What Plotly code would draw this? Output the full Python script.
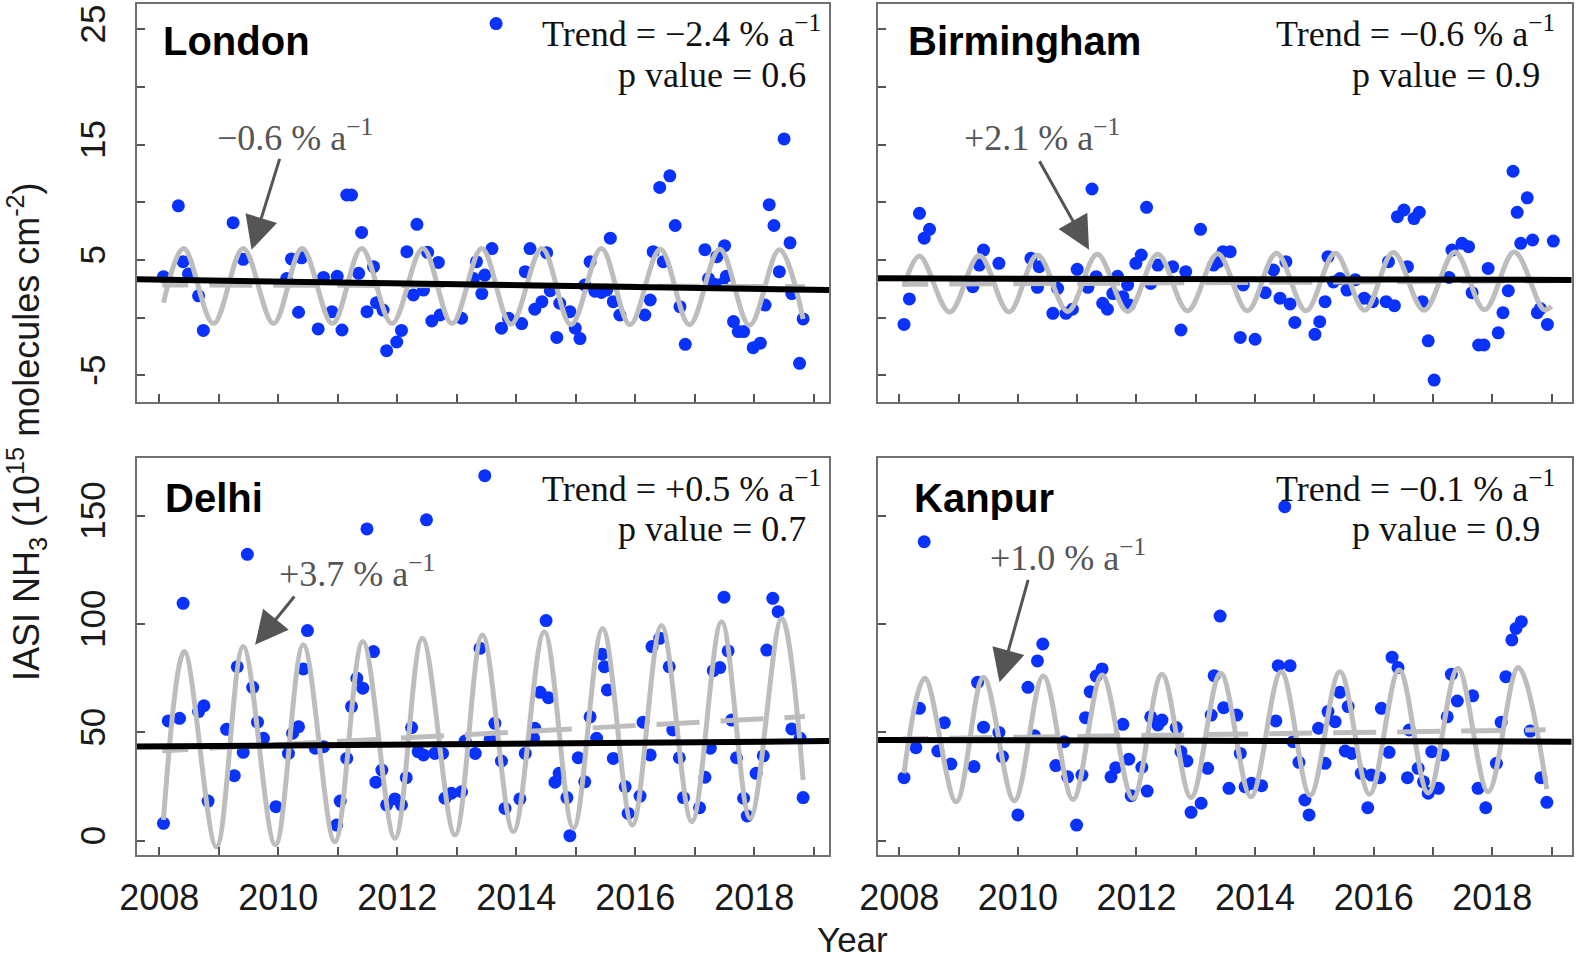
import plotly.graph_objects as go

W, H = 1576, 960

# ---------------- data ----------------
years = list(range(2008, 2020))
year_labels = [str(y) if y % 2 == 0 else "" for y in years]
top_ticks = [-5, 0, 5, 10, 15, 20, 25]
top_labels = ["-5", "", "5", "", "15", "", "25"]
bottom_ticks = [0, 50, 100, 150]
bottom_labels = ["0", "50", "100", "150"]

cities = ["London", "Birmingham", "Delhi", "Kanpur"]
trend_pct = ["−2.4", "−0.6", "+0.5", "−0.1"]
p_values = ["0.6", "0.9", "0.7", "0.9"]
seasonal_pct = ["−0.6", "+2.1", "+3.7", "+1.0"]

london_t = [2008.07, 2008.32, 2008.40, 2008.49, 2008.66, 2008.74, 2009.24, 2009.41, 2010.14, 2010.22,
            2010.34, 2010.39, 2010.67, 2010.76, 2010.90, 2010.99, 2011.07, 2011.15, 2011.23, 2011.35,
            2011.40, 2011.49, 2011.60, 2011.65, 2011.76, 2011.82, 2011.99, 2012.07, 2012.16, 2012.27,
            2012.33, 2012.44, 2012.51, 2012.58, 2012.69, 2012.72, 2013.08, 2013.28, 2013.33, 2013.42,
            2013.47, 2013.59, 2013.66, 2013.75, 2013.87, 2014.09, 2014.15, 2014.23, 2014.31, 2014.43,
            2014.51, 2014.57, 2014.68, 2014.73, 2014.90, 2014.99, 2015.07, 2015.15, 2015.24, 2015.32,
            2015.43, 2015.52, 2015.58, 2015.63, 2015.74, 2016.16, 2016.25, 2016.30, 2016.41, 2016.47,
            2016.58, 2016.67, 2016.75, 2016.84, 2017.17, 2017.23, 2017.33, 2017.37, 2017.45, 2017.50,
            2017.53, 2017.65, 2017.73, 2017.82, 2017.98, 2018.10, 2018.18, 2018.25, 2018.33, 2018.42,
            2018.50, 2018.60, 2018.63, 2018.76, 2018.82]
london_v = [3.56, 9.7, 4.86, 3.8, 1.9, -1.1, 8.24, 5.07, 3.4, 5.1,
            0.48, 5.2, -0.97, 3.5, 0.53, 3.6, -1.06, 10.64, 10.64, 3.85,
            7.4, 0.53, 4.43, 1.31, 0.67, -2.85, -2.1, -1.1, 5.73, 1.98,
            8.1, 2.4, 5.67, -0.28, 4.8, 0.24, -0.04, 3.4, 4.86, 2.1,
            3.7, 6.0, 25.5, -0.9, -0.04, -0.5, 4.0, 6.0, 0.74, 1.4,
            5.64, 2.35, -1.7, 1.26, 0.53, -0.9, -1.8, 2.84, 4.86, 2.3,
            2.2, 2.4, 6.9, 1.4, 0.24, 0.24, 1.54, 5.73, 11.3, 4.86,
            12.3, 8.0, 0.96, -2.3, 5.9, 3.4, 2.9, 5.3, 2.9, 6.25,
            3.6, -0.33, -1.2, -1.2, -2.6, -2.2, 1.1, 9.8, 8.0, 4.0,
            15.5, 6.5, 2.1, -3.95, -0.1]

birmingham_t = [2008.08, 2008.17, 2008.34, 2008.42, 2008.51, 2009.24, 2009.35, 2009.42, 2009.68, 2010.22,
                2010.33, 2010.36, 2010.59, 2010.67, 2010.81, 2010.92, 2011.00, 2011.18, 2011.25, 2011.32,
                2011.43, 2011.51, 2011.60, 2011.68, 2011.77, 2011.85, 2011.88, 2011.99, 2012.08, 2012.17,
                2012.24, 2012.36, 2012.61, 2012.75, 2012.83, 2013.08, 2013.30, 2013.38, 2013.46, 2013.58,
                2013.75, 2013.80, 2014.00, 2014.17, 2014.31, 2014.42, 2014.52, 2014.59, 2014.67, 2015.01,
                2015.09, 2015.18, 2015.23, 2015.32, 2015.43, 2015.55, 2015.69, 2015.84, 2015.98, 2016.21,
                2016.25, 2016.35, 2016.40, 2016.51, 2016.57, 2016.68, 2016.77, 2016.82, 2016.92, 2017.02,
                2017.27, 2017.32, 2017.49, 2017.60, 2017.66, 2017.77, 2017.86, 2017.93, 2018.10, 2018.18,
                2018.27, 2018.35, 2018.42, 2018.48, 2018.59, 2018.68, 2018.76, 2018.81, 2018.93, 2019.03]
birmingham_v = [-0.58, 1.63, 9.05, 6.9, 7.67, 2.7, 4.57, 5.87, 4.72, 5.15,
                2.64, 4.43, 0.39, 2.55, 0.39, 0.74, 4.2, 2.64, 11.16, 3.56,
                1.26, 0.74, 2.1, 3.6, 1.83, 2.84, 1.1, 4.72, 5.44, 9.57,
                2.98, 4.57, 4.43, -1.06, 4.0, 7.67, 4.57, 4.86, 5.73, 5.73,
                -1.7, 2.84, -1.86, 2.18, 4.14, 1.7, 4.86, 1.2, -0.4, -1.43,
                -0.34, 1.4, 5.3, 3.1, 3.4, 2.4, 3.3, 1.7, 1.4, 1.4,
                4.86, 1.05, 8.76, 9.34, 4.43, 8.6, 9.14, 1.4, -2.0, -5.4,
                3.5, 5.87, 6.45, 6.16, 2.18, -2.36, -2.36, 4.28, -1.3, 0.44,
                2.35, 12.7, 9.14, 6.45, 10.4, 6.74, 0.44, 0.8, -0.58, 6.65]

delhi_t = [2008.07, 2008.15, 2008.34, 2008.40, 2008.66, 2008.75, 2008.82, 2009.13, 2009.26, 2009.31,
           2009.41, 2009.48, 2009.57, 2009.65, 2009.75, 2009.96, 2010.17, 2010.24, 2010.34, 2010.42,
           2010.49, 2010.62, 2010.76, 2010.98, 2011.04, 2011.15, 2011.23, 2011.32, 2011.42, 2011.49,
           2011.60, 2011.64, 2011.74, 2011.82, 2011.96, 2012.07, 2012.15, 2012.24, 2012.35, 2012.44,
           2012.49, 2012.63, 2012.76, 2012.80, 2012.91, 2013.08, 2013.14, 2013.31, 2013.39, 2013.47,
           2013.56, 2013.64, 2013.75, 2013.81, 2014.06, 2014.15, 2014.29, 2014.31, 2014.40, 2014.50,
           2014.54, 2014.65, 2014.72, 2014.85, 2014.90, 2015.04, 2015.15, 2015.24, 2015.35, 2015.44,
           2015.48, 2015.53, 2015.63, 2015.83, 2015.88, 2016.08, 2016.13, 2016.25, 2016.28, 2016.41,
           2016.57, 2016.63, 2016.74, 2016.81, 2017.08, 2017.17, 2017.26, 2017.31, 2017.42, 2017.49,
           2017.56, 2017.62, 2017.70, 2017.82, 2017.88, 2018.03, 2018.15, 2018.21, 2018.31, 2018.40,
           2018.63, 2018.77, 2018.82]
delhi_v = [8.0, 55.3, 56.5, 109.6, 59.6, 62.3, 18.3, 51.4, 30.0, 80.3,
           40.8, 132.2, 70.8, 54.7, 47.3, 15.7, 40.3, 49.6, 52.6, 79.3,
           97.0, 42.7, 43.4, 7.2, 18.3, 38.0, 61.9, 75.0, 70.4, 143.9,
           87.3, 27.0, 32.6, 16.5, 19.3, 16.5, 29.1, 52.2, 41.1, 39.6,
           148.1, 40.3, 40.3, 19.6, 21.9, 22.6, 46.0, 40.3, 88.8, 168.5,
           47.0, 54.2, 36.8, 14.9, 19.3, 40.3, 47.3, 51.9, 68.5, 101.6,
           66.0, 27.0, 31.1, 19.9, 2.3, 38.3, 27.2, 57.2, 47.3, 86.1,
           80.3, 69.6, 38.0, 24.9, 12.6, 20.6, 54.7, 39.6, 89.6, 93.4,
           80.3, 51.1, 38.3, 19.9, 15.2, 29.3, 42.7, 78.5, 79.9, 112.4,
           87.6, 55.7, 38.3, 19.6, 11.4, 31.1, 39.2, 88.0, 111.9, 105.7,
           51.6, 47.3, 19.9]

kanpur_t = [2008.08, 2008.28, 2008.34, 2008.42, 2008.65, 2008.76, 2008.87, 2009.26, 2009.32, 2009.42,
            2009.68, 2009.74, 2010.00, 2010.17, 2010.28, 2010.33, 2010.42, 2010.64, 2010.78, 2010.84,
            2010.99, 2011.08, 2011.14, 2011.22, 2011.32, 2011.42, 2011.57, 2011.65, 2011.77, 2011.87,
            2011.91, 2012.09, 2012.18, 2012.24, 2012.36, 2012.43, 2012.67, 2012.75, 2012.85, 2012.92,
            2013.09, 2013.20, 2013.26, 2013.31, 2013.41, 2013.47, 2013.56, 2013.69, 2013.75, 2013.83,
            2013.94, 2014.11, 2014.35, 2014.39, 2014.50, 2014.59, 2014.64, 2014.74, 2014.84, 2014.91,
            2015.07, 2015.18, 2015.23, 2015.35, 2015.43, 2015.52, 2015.57, 2015.63, 2015.79, 2015.90,
            2015.96, 2016.10, 2016.13, 2016.26, 2016.31, 2016.41, 2016.57, 2016.60, 2016.75, 2016.84,
            2016.92, 2016.98, 2017.09, 2017.17, 2017.24, 2017.31, 2017.41, 2017.67, 2017.76, 2017.89,
            2018.07, 2018.15, 2018.23, 2018.33, 2018.40, 2018.49, 2018.64, 2018.82, 2018.92]
kanpur_v = [29.1, 42.9, 61.1, 138.0, 41.4, 54.5, 35.4, 34.2, 73.1, 52.4,
            50.0, 38.8, 11.9, 70.8, 48.5, 83.0, 90.8, 34.7, 45.7, 29.5,
            7.2, 30.3, 56.8, 68.8, 76.0, 79.3, 29.5, 33.7, 53.7, 37.6,
            20.8, 33.9, 22.9, 57.2, 53.4, 55.7, 52.2, 41.1, 36.8, 13.1,
            17.3, 33.4, 58.0, 76.2, 103.7, 61.4, 24.2, 58.0, 40.3, 24.9,
            26.5, 25.4, 55.3, 80.8, 154.2, 80.8, 45.7, 36.2, 18.8, 11.9,
            51.9, 35.7, 59.6, 54.9, 68.5, 41.4, 61.9, 40.3, 31.1, 15.2,
            30.3, 29.1, 61.1, 40.8, 84.7, 79.9, 29.1, 51.1, 33.4, 27.2,
            21.9, 41.1, 24.2, 39.6, 57.2, 76.8, 64.5, 66.9, 24.2, 15.2,
            35.7, 54.7, 75.7, 92.7, 98.0, 101.1, 50.6, 29.1, 17.7]

# seasonal fit (grey curve): start, successive maxima / minima, end
london_fit_t = [2008.07, 2008.41, 2008.91, 2009.41, 2009.92, 2010.40, 2010.91, 2011.40, 2011.91, 2012.43,
                2012.92, 2013.42, 2013.91, 2014.43, 2014.92, 2015.43, 2015.91, 2016.42, 2016.91, 2017.42,
                2017.92, 2018.42, 2018.82]
london_fit_v = [1.3, 6.0, -0.5, 6.0, -0.5, 6.0, -0.5, 6.0, -0.5, 6.0,
                -0.5, 6.0, -0.55, 6.0, -0.6, 6.0, -0.6, 5.95, -0.6, 5.95,
                -0.65, 5.9, -0.1]
birmingham_fit_t = [2008.08, 2008.34, 2008.85, 2009.35, 2009.85, 2010.33, 2010.84, 2011.34, 2011.85, 2012.36,
                    2012.86, 2013.37, 2013.87, 2014.36, 2014.86, 2015.35, 2015.85, 2016.33, 2016.85, 2017.37,
                    2017.87, 2018.37, 2018.87, 2019.00]
birmingham_fit_v = [2.7, 5.35, 0.5, 5.4, 0.5, 5.45, 0.55, 5.5, 0.55, 5.5,
                    0.6, 5.55, 0.6, 5.6, 0.6, 5.6, 0.65, 5.65, 0.65, 5.7,
                    0.7, 5.7, 0.7, 1.0]
delhi_fit_t = [2008.07, 2008.42, 2008.96, 2009.41, 2009.95, 2010.42, 2010.95, 2011.42, 2011.96, 2012.42,
               2012.97, 2013.43, 2013.95, 2014.47, 2014.96, 2015.45, 2015.95, 2016.44, 2016.95, 2017.45,
               2017.93, 2018.46, 2018.82]
delhi_fit_v = [9.6, 87.3, -2.8, 89.6, -2.0, 90.4, -0.5, 91.9, 1.1, 93.4,
               2.6, 95.0, 4.2, 96.5, 5.7, 98.0, 7.2, 99.3, 8.8, 101.1,
               10.3, 102.7, 28.0]
kanpur_fit_t = [2008.08, 2008.43, 2008.96, 2009.42, 2009.94, 2010.43, 2010.93, 2011.42, 2011.94, 2012.43,
                2012.92, 2013.42, 2013.93, 2014.44, 2014.93, 2015.43, 2015.93, 2016.43, 2016.92, 2017.42,
                2017.93, 2018.44, 2018.92]
kanpur_fit_v = [31.1, 75.0, 18.0, 75.5, 18.5, 76.0, 19.0, 76.5, 19.5, 76.8,
                20.0, 77.3, 20.3, 78.0, 21.0, 78.0, 21.5, 78.8, 22.0, 79.6,
                22.6, 79.9, 23.8]

# deseasonalised fit (grey dashed) and linear trend (black)
london_base_t, london_base_v = [2008.05, 2018.85], [2.85, 2.7]
birmingham_base_t, birmingham_base_v = [2008.05, 2019.0], [2.9, 3.2]
delhi_base_t, delhi_base_v = [2008.05, 2018.85], [41.5, 57.3]
kanpur_base_t, kanpur_base_v = [2008.05, 2018.9], [47.0, 51.2]

london_trend_t, london_trend_v = [2007.5, 2019.4], [3.34, 2.40]
birmingham_trend_t, birmingham_trend_v = [2007.5, 2019.4], [3.42, 3.28]
delhi_trend_t, delhi_trend_v = [2007.5, 2019.4], [43.4, 46.0]
kanpur_trend_t, kanpur_trend_v = [2007.5, 2019.4], [46.5, 45.7]

# arrow (tail -> tip) for the seasonal-amplitude labels
arrow_tail_t = [2010.03, 2010.35, 2010.29, 2010.18]
arrow_tail_v = [13.9, 13.7, 113.4, 121.1]
arrow_tip_t = [2009.55, 2011.20, 2009.61, 2009.69]
arrow_tip_v = [5.9, 5.9, 90.4, 73.1]

# ---------------- layout helpers ----------------
def px(x):
    return x / W

def py(y):
    return 1 - y / H

col_px = [(137, 829), (878, 1571.5)]
row_px = [(3.5, 402), (457.7, 855)]
x_ranges = [[2007.625, 2019.255], [2007.641, 2019.336]]
y_ranges = [[-7.30, 27.24], [-6.6, 176.8]]

SANS = "Liberation Sans, Arial, sans-serif"
SERIF = "Liberation Serif, Times New Roman, serif"
BLUE = "#0a32ff"
GREY = "#bdbdbd"

panels = [
    (london_t, london_v, london_fit_t, london_fit_v, london_base_t, london_base_v, london_trend_t, london_trend_v),
    (birmingham_t, birmingham_v, birmingham_fit_t, birmingham_fit_v, birmingham_base_t, birmingham_base_v,
     birmingham_trend_t, birmingham_trend_v),
    (delhi_t, delhi_v, delhi_fit_t, delhi_fit_v, delhi_base_t, delhi_base_v, delhi_trend_t, delhi_trend_v),
    (kanpur_t, kanpur_v, kanpur_fit_t, kanpur_fit_v, kanpur_base_t, kanpur_base_v, kanpur_trend_t, kanpur_trend_v),
]

dash_pattern = "26px,21px," + ",".join(["43px,21px"] * 12)

fig = go.Figure()
layout = dict(width=W, height=H, margin=dict(l=0, r=0, t=0, b=0, autoexpand=False),
              paper_bgcolor="white", plot_bgcolor="white", showlegend=False)

annotations = []
for i, (t, v, ft, fv, bt, bv, tt, tv) in enumerate(panels):
    r, c = divmod(i, 2)
    sfx = "" if i == 0 else str(i + 1)
    xa, ya = "x" + sfx, "y" + sfx
    layout["xaxis" + sfx] = dict(
        domain=[px(col_px[c][0]), px(col_px[c][1])], range=x_ranges[c], anchor=ya, automargin=False,
        tickvals=years, ticktext=year_labels if r == 1 else [" "] * len(years),
        ticks="inside", ticklen=8, tickwidth=1.5, tickcolor="#555",
        showline=True, linecolor="#707070", linewidth=2, mirror=True,
        showgrid=False, zeroline=False, ticklabelstandoff=10,
        tickfont=dict(family=SANS, size=36, color="#1a1a1a"))
    tv_y = top_ticks if r == 0 else bottom_ticks
    tl_y = top_labels if r == 0 else bottom_labels
    layout["yaxis" + sfx] = dict(
        domain=[py(row_px[r][1]), py(row_px[r][0])], range=y_ranges[r], anchor=xa, automargin=False,
        tickvals=tv_y, ticktext=tl_y if c == 0 else [" "] * len(tv_y),
        ticks="inside", ticklen=8, tickwidth=1.5, tickcolor="#555", tickangle=-90,
        showline=True, linecolor="#707070", linewidth=2, mirror=True,
        showgrid=False, zeroline=False, ticklabelstandoff=16,
        tickfont=dict(family=SANS, size=35, color="#1a1a1a"))

    fig.add_trace(go.Scatter(x=t, y=v, mode="markers", xaxis=xa, yaxis=ya,
                             marker=dict(size=13, color=BLUE, line=dict(width=0))))
    fig.add_trace(go.Scatter(x=ft, y=fv, mode="lines", xaxis=xa, yaxis=ya,
                             line=dict(color=GREY, width=5, shape="spline", smoothing=1.0)))
    fig.add_trace(go.Scatter(x=bt, y=bv, mode="lines", xaxis=xa, yaxis=ya,
                             line=dict(color=GREY, width=5, dash=dash_pattern)))
    fig.add_trace(go.Scatter(x=tt, y=tv, mode="lines", xaxis=xa, yaxis=ya,
                             line=dict(color="black", width=6)))

    # arrow
    annotations.append(dict(x=arrow_tip_t[i], y=arrow_tip_v[i], ax=arrow_tail_t[i], ay=arrow_tail_v[i],
                            xref=xa, yref=ya, axref=xa, ayref=ya, text="", showarrow=True,
                            arrowhead=2, arrowsize=2.2, arrowwidth=3, arrowcolor="#555555"))

# titles and texts positioned in pixels
title_pos = [(161, 41), (906, 41), (163, 498), (912, 498)]
trend_pos = [(823, 32), (1557, 32), (823, 486), (1557, 486)]
pval_pos = [(808, 75), (1542, 75), (808, 529), (1542, 529)]
amp_pos = [(295, 136), (1042, 136), (357, 571), (1068, 555)]

for i in range(4):
    annotations.append(dict(x=px(title_pos[i][0]), y=py(title_pos[i][1]), xref="paper", yref="paper",
                            text="<b>%s</b>" % cities[i], showarrow=False, xanchor="left", yanchor="middle",
                            font=dict(family=SANS, size=40, color="black")))
    annotations.append(dict(x=px(trend_pos[i][0]), y=py(trend_pos[i][1]), xref="paper", yref="paper",
                            text="Trend = %s %% a<sup>−1</sup>" % trend_pct[i], showarrow=False,
                            xanchor="right", yanchor="middle",
                            font=dict(family=SERIF, size=36, color="#111")))
    annotations.append(dict(x=px(pval_pos[i][0]), y=py(pval_pos[i][1]), xref="paper", yref="paper",
                            text="p value = %s" % p_values[i], showarrow=False,
                            xanchor="right", yanchor="middle",
                            font=dict(family=SERIF, size=36, color="#111")))
    annotations.append(dict(x=px(amp_pos[i][0]), y=py(amp_pos[i][1]), xref="paper", yref="paper",
                            text="%s %% a<sup>−1</sup>" % seasonal_pct[i], showarrow=False,
                            xanchor="center", yanchor="middle",
                            font=dict(family=SERIF, size=36, color="#555555")))

annotations.append(dict(x=px(27), y=py(432), xref="paper", yref="paper", textangle=-90,
                        text="IASI NH<sub>3</sub> (10<sup>15</sup> molecules cm<sup>-2</sup>)",
                        showarrow=False, xanchor="center", yanchor="middle",
                        font=dict(family=SANS, size=36, color="#1a1a1a")))
annotations.append(dict(x=px(852), y=py(939), xref="paper", yref="paper", text="Year",
                        showarrow=False, xanchor="center", yanchor="middle",
                        font=dict(family=SANS, size=35, color="#1a1a1a")))

layout["annotations"] = annotations
fig.update_layout(**layout)
fig.write_html("out.html", config={"displayModeBar": False},
               post_script="document.body.style.margin='0px';document.body.style.overflow='hidden';")
